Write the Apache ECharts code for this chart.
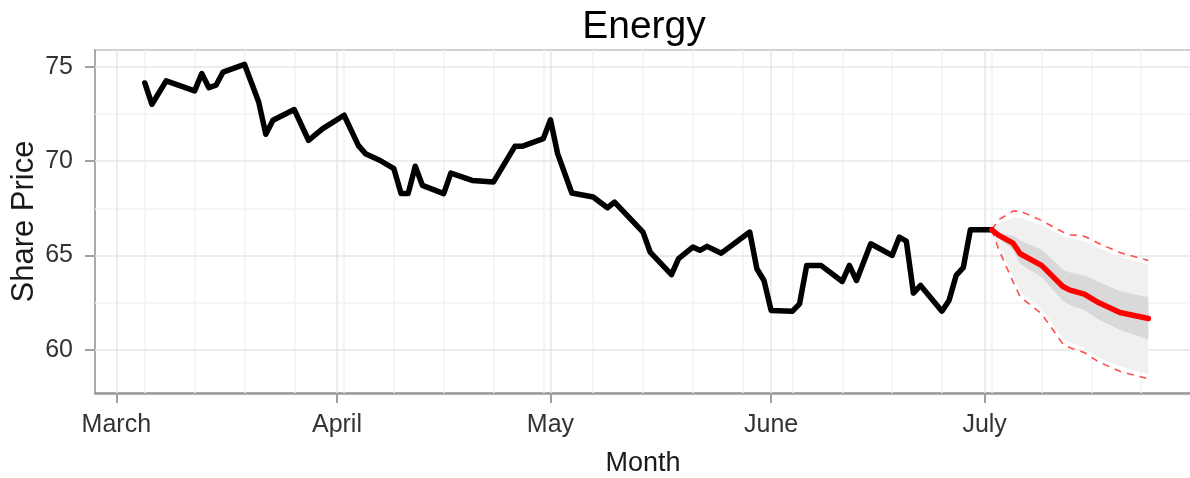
<!DOCTYPE html>
<html><head><meta charset="utf-8">
<script src="https://cdn.jsdelivr.net/npm/echarts@6/dist/echarts.min.js"></script>
<style>html,body{margin:0;padding:0;background:#fff}#c{width:1190px;height:478px}</style>
</head><body><div id="c"></div>
<script>
// ---- data ----
const histDates = ['2013-03-05','2013-03-06','2013-03-08','2013-03-12','2013-03-13','2013-03-14','2013-03-15','2013-03-16','2013-03-19','2013-03-21','2013-03-22','2013-03-23','2013-03-26','2013-03-28','2013-03-30','2013-04-02','2013-04-04','2013-04-05','2013-04-07','2013-04-09','2013-04-10','2013-04-11','2013-04-12','2013-04-13','2013-04-16','2013-04-17','2013-04-20','2013-04-23','2013-04-26','2013-04-27','2013-04-30','2013-05-01','2013-05-02','2013-05-04','2013-05-07','2013-05-09','2013-05-10','2013-05-14','2013-05-15','2013-05-18','2013-05-19','2013-05-21','2013-05-22','2013-05-23','2013-05-25','2013-05-29','2013-05-30','2013-05-31','2013-06-01','2013-06-04','2013-06-05','2013-06-06','2013-06-08','2013-06-11','2013-06-12','2013-06-13','2013-06-15','2013-06-18','2013-06-19','2013-06-20','2013-06-21','2013-06-22','2013-06-25','2013-06-26','2013-06-27','2013-06-28','2013-06-29','2013-07-02'];
const histValues = [74.15,73.02,74.26,73.73,74.65,73.9,74.03,74.73,75.14,73.14,71.43,72.17,72.74,71.11,71.73,72.44,70.84,70.4,70.05,69.6,68.28,68.28,69.73,68.72,68.28,69.37,68.98,68.9,70.79,70.79,71.2,72.2,70.4,68.31,68.1,67.53,67.83,66.24,65.18,63.98,64.83,65.44,65.27,65.48,65.12,66.24,64.29,63.67,62.08,62.04,62.43,64.47,64.47,63.62,64.47,63.67,65.62,65.0,65.97,65.76,63.0,63.41,62.04,62.61,63.94,64.35,66.36,66.36];

const fcDates = ['2013-07-02','2013-07-03','2013-07-05','2013-07-06','2013-07-09','2013-07-12','2013-07-13','2013-07-15','2013-07-17','2013-07-20','2013-07-24'];
const fcMean      = [66.36,66.06,65.65,65.09,64.47,63.35,63.16,62.95,62.5,61.97,61.65];
const fcInnerHigh = [66.36,66.2,66.05,65.8,65.3,64.25,64.1,63.95,63.6,63.1,62.78];
const fcInnerLow  = [66.36,65.9,65.3,64.55,63.85,62.6,62.35,62.1,61.6,61.05,60.52];
const fcOuterHigh = [66.36,66.7,67.0,67.0,66.6,66.0,65.9,65.75,65.4,64.9,64.5];
const fcOuterLow  = [66.36,65.5,63.9,63.1,62.2,60.6,60.4,60.1,59.6,59.1,58.7];
const fcDashHigh  = [66.36,66.9,67.35,67.35,66.85,66.24,66.1,66.02,65.65,65.15,64.73];
const fcDashLow   = [66.36,65.3,63.6,62.8,61.9,60.3,60.1,59.85,59.35,58.85,58.45];

const monthTicks  = ['2013-03-01','2013-04-01','2013-05-01','2013-06-01','2013-07-01'];
const monthLabels = ['March','April','May','June','July'];
const weekTicks   = ['2013-03-05','2013-03-12','2013-03-19','2013-03-26','2013-04-02','2013-04-09','2013-04-16','2013-04-23','2013-04-30','2013-05-07','2013-05-14','2013-05-21','2013-05-28','2013-06-04','2013-06-11','2013-06-18','2013-06-25','2013-07-02','2013-07-09','2013-07-16','2013-07-23','2013-07-30'];
const yTicks      = [60, 65, 70, 75];
const yMinorTicks = [62.5, 67.5, 72.5];

// ---- build ----
const P = s => {
  const p = s.split('-').map(Number);
  return new Date(p[0], p[1] - 1, p[2]).getTime();
};
const zip = (d, v) => d.map((x, i) => [P(x), v[i]]);
const monthTs = monthTicks.map(P);
const FONT = 'Liberation Sans';

const gridLines = [];
weekTicks.forEach(d => gridLines.push({xAxis: P(d), lineStyle: {color: '#f2f2f2', width: 1.5, type: 'solid'}}));
yMinorTicks.forEach(v => gridLines.push({yAxis: v, lineStyle: {color: '#f2f2f2', width: 1.5, type: 'solid'}}));
monthTs.forEach(t => gridLines.push({xAxis: t, lineStyle: {color: '#e6e6e6', width: 1.5, type: 'solid'}}));
yTicks.forEach(v => gridLines.push({yAxis: v, lineStyle: {color: '#e6e6e6', width: 1.5, type: 'solid'}}));

// band series: each item = [x, low, high]; polygon drawn through the axis scales
function bandSeries(name, low, high, color, z) {
  const items = fcDates.map((d, i) => [P(d), low[i], high[i]]);
  return {
    type: 'custom', name: name, z: z, silent: true, data: items,
    encode: {x: 0, y: [1, 2]},
    renderItem: function (params, api) {
      if (params.dataIndex !== 0) return null;
      const up = items.map(it => api.coord([it[0], it[2]]));
      const lo = items.map(it => api.coord([it[0], it[1]])).reverse();
      return {type: 'polygon', shape: {points: up.concat(lo)}, style: {fill: color}};
    }
  };
}

const option = {
  animation: false,
  backgroundColor: '#fff',
  title: {
    text: 'Energy', left: 639, top: 3, textAlign: 'center',
    textStyle: {fontFamily: FONT, fontSize: 39, fontWeight: 'normal', color: '#000'}
  },
  grid: {left: 95, right: -1, top: 50, bottom: 85, show: true, borderColor: '#c4c4c4', borderWidth: 1.5, outerBoundsMode: 'none', containLabel: false},
  xAxis: {
    type: 'value', min: P('2013-02-26'), max: P('2013-07-30'), scale: true,
    name: 'Month', nameLocation: 'middle', nameGap: 57,
    nameTextStyle: {fontFamily: FONT, fontSize: 27, color: '#1a1a1a'},
    axisLine: {show: true, lineStyle: {color: '#9c9c9c', width: 2.5}},
    axisTick: {show: true, length: 10, lineStyle: {color: '#a0a0a0', width: 2}, customValues: monthTs},
    axisLabel: {
      show: true, margin: 20, fontFamily: FONT, fontSize: 25, color: '#333',
      customValues: monthTs,
      formatter: function (v) { const i = monthTs.indexOf(v); return i >= 0 ? monthLabels[i] : ''; }
    },
    splitLine: {show: false}, minorSplitLine: {show: false}
  },
  yAxis: {
    type: 'value', min: 57.7, max: 75.9,
    name: 'Share Price', nameLocation: 'middle', nameGap: 55, nameMoveOverlap: false,
    nameTextStyle: {fontFamily: FONT, fontSize: 31, color: '#1a1a1a'},
    axisLine: {show: true, lineStyle: {color: '#aaaaaa', width: 2}},
    axisTick: {show: true, length: 10, lineStyle: {color: '#a0a0a0', width: 2}, customValues: yTicks},
    axisLabel: {show: true, margin: 22, fontFamily: FONT, fontSize: 25, color: '#333', customValues: yTicks},
    splitLine: {show: false}
  },
  series: [
    {type: 'line', name: 'grid', data: [], z: 1, symbol: 'none', silent: true,
     markLine: {z: 1, silent: true, symbol: ['none', 'none'], label: {show: false}, animation: false, data: gridLines}},
    bandSeries('outerBand', fcOuterLow, fcOuterHigh, '#f0f0f0', 2),
    bandSeries('innerBand', fcInnerLow, fcInnerHigh, '#d9d9d9', 3),
    {type: 'line', name: 'dashHigh', data: zip(fcDates, fcDashHigh), z: 4, symbol: 'none',
     lineStyle: {color: '#ff4d4d', width: 1.6, type: [7, 6]}},
    {type: 'line', name: 'dashLow', data: zip(fcDates, fcDashLow), z: 4, symbol: 'none',
     lineStyle: {color: '#ff4d4d', width: 1.6, type: [7, 6]}},
    {type: 'line', name: 'history', data: zip(histDates, histValues), z: 5, symbol: 'none',
     lineStyle: {color: '#000', width: 5.5, join: 'round', cap: 'round'}},
    {type: 'line', name: 'forecast', data: zip(fcDates, fcMean), z: 6, symbol: 'none',
     lineStyle: {color: '#ff0000', width: 5.5, join: 'round', cap: 'round'}}
  ]
};
echarts.init(document.getElementById('c')).setOption(option);
</script>
</body></html>
